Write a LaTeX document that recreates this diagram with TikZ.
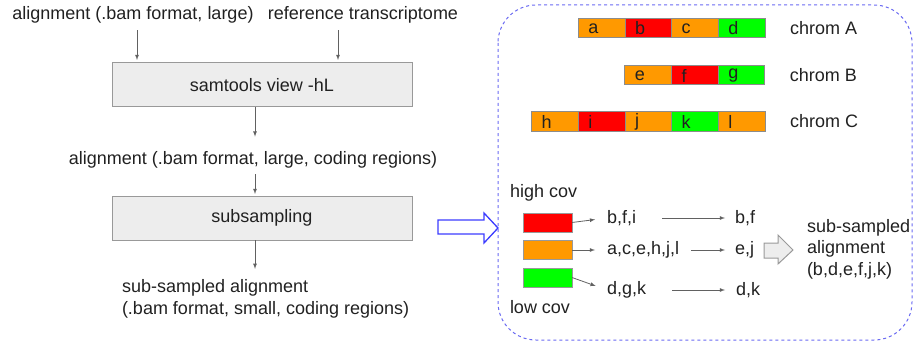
\documentclass[tikz,border=0pt]{standalone}
\usepackage{fontspec}
\setmainfont{Liberation Sans}
\usetikzlibrary{arrows,calc,positioning}
\definecolor{orng}{HTML}{FF9900}
\definecolor{grn}{HTML}{00FF00}
\definecolor{dashblue}{HTML}{6A6AF2}
\definecolor{arrblue}{HTML}{3C3CFF}

\begin{document}
\begin{tikzpicture}[x=1pt,y=-1pt,
    every node/.style={font=\fontsize{18}{21.5}\selectfont,text=black!87,inner sep=0pt,outer sep=0pt},
    procbox/.style={draw=black!40,fill=black!7,line width=1pt,minimum width=300pt,minimum height=44pt},
    seg/.style={draw=black!45,line width=1pt,minimum height=19pt,text width=26.67pt,inner xsep=10pt,align=left},
    covbox/.style={draw=black!40,line width=1pt,minimum width=49pt,minimum height=19pt},
    flow/.style={-latex,draw=black!62,line width=0.8pt}]
  \useasboundingbox (0,0) rectangle (914,345);
  % left: pipeline
  \node (alnin) at (133,15) {alignment (.bam format, large)};
  \node (refin) at (363,15) {reference transcriptome};
  \node[procbox] (view) at (262,85) {samtools view -hL};
  \node (alncod) at (253,160) {alignment (.bam format, large, coding regions)};
  \node[procbox] (subs) at (262,218) {subsampling};
  \node[anchor=west,align=left] (subout) at (122,299) {sub-sampled alignment\\(.bam format, small, coding regions)};
  \coordinate (alnin-out) at ($(alnin.south)+(4,7)$);
  \coordinate (refin-out) at ($(refin.south)+(-25,7)$);
  \coordinate (view-out) at ($(view.south)+(-7,0)$);
  \coordinate (alncod-out) at ($(alncod.south)+(2,6)$);
  \coordinate (subs-out) at ($(subs.south)+(-7,0)$);
  \draw[flow,shorten >=3pt] (alnin-out)--(alnin-out |- view.north);
  \draw[flow,shorten >=3pt] (refin-out)--(refin-out |- view.north);
  \draw[flow,shorten >=15pt] (view-out)--(view-out |- alncod.north);
  \draw[flow,shorten >=2pt] (alncod-out)--(alncod-out |- subs.north);
  \draw[flow,shorten >=11pt] (subs-out)--(subs-out |- subout.north);
  % zoom in
  \draw[arrblue,line width=1.3pt,fill=white] (438,220)--(484,220)--(484,213)--(498,228)--(484,243)--(484,234)--(438,234)--cycle;
  \draw[dashblue,dashed,line width=1pt,rounded corners=38pt] (498,5) rectangle (912,340);
  % chromosomes
  \node[seg,fill=orng] (a) at (601.7,28.5) {a};
  \node[seg,fill=red,right=0pt of a] (b) {b};
  \node[seg,fill=orng,right=0pt of b] (c) {c};
  \node[seg,fill=grn,right=0pt of c] (d) {d};
  \node[right=25pt of d] (chromA) {chrom A};
  \node[seg,fill=orng] (e) at (648.3,75.5) {e};
  \node[seg,fill=red,right=0pt of e] (f) {f};
  \node[seg,fill=grn,right=0pt of f] (g) {g};
  \node[right=25pt of g] (chromB) {chrom B};
  \node[seg,fill=orng] (h) at (555,121.5) {h};
  \node[seg,fill=red,right=0pt of h] (i) {i};
  \node[seg,fill=orng,right=0pt of i] (j) {j};
  \node[seg,fill=grn,right=0pt of j] (k) {k};
  \node[seg,fill=orng,right=0pt of k] (l) {l};
  \node[right=25pt of l] (chromC) {chrom C};
  % coverage classes
  \node[anchor=west] (hicov) at (510,193) {high cov};
  \node[covbox,fill=red] (hibox) at (547.5,222.5) {};
  \node[covbox,fill=orng] (midbox) at (547.5,250) {};
  \node[covbox,fill=grn] (lobox) at (547.5,277.5) {};
  \node[anchor=west] (locov) at (510,307) {low cov};
  \node[anchor=west] (hiall) at (607,218) {b,f,i};
  \node[anchor=west] (midall) at (607,250) {a,c,e,h,j,l};
  \node[anchor=west] (loall) at (607,290) {d,g,k};
  \node[anchor=west] (hisub) at (735,218) {b,f};
  \node[anchor=west] (midsub) at (735,250) {e,j};
  \node[anchor=west] (losub) at (736,290) {d,k};
  \draw[flow,shorten >=12pt] (hibox.east)--(hiall.west);
  \draw[flow,shorten >=12pt] (midbox.east)--(midall.west);
  \draw[flow,shorten >=12pt] (lobox.east)--(loall.west);
  \draw[flow,shorten <=26pt,shorten >=10pt] (hiall.east)--(hisub.west);
  \draw[flow,shorten <=12pt,shorten >=10pt] (midall.east)--(midsub.west);
  \draw[flow,shorten <=26pt,shorten >=11pt] (loall.east)--(losub.west);
  % merged
  \draw[black!40,fill=black!7,line width=1pt] (764,243)--(778,243)--(778,235)--(793,250)--(778,264)--(778,258)--(764,258)--cycle;
  \node[anchor=west,align=left] (merged) at (807,249) {sub-sampled\\alignment\\(b,d,e,f,j,k)};
\end{tikzpicture}
\end{document}
